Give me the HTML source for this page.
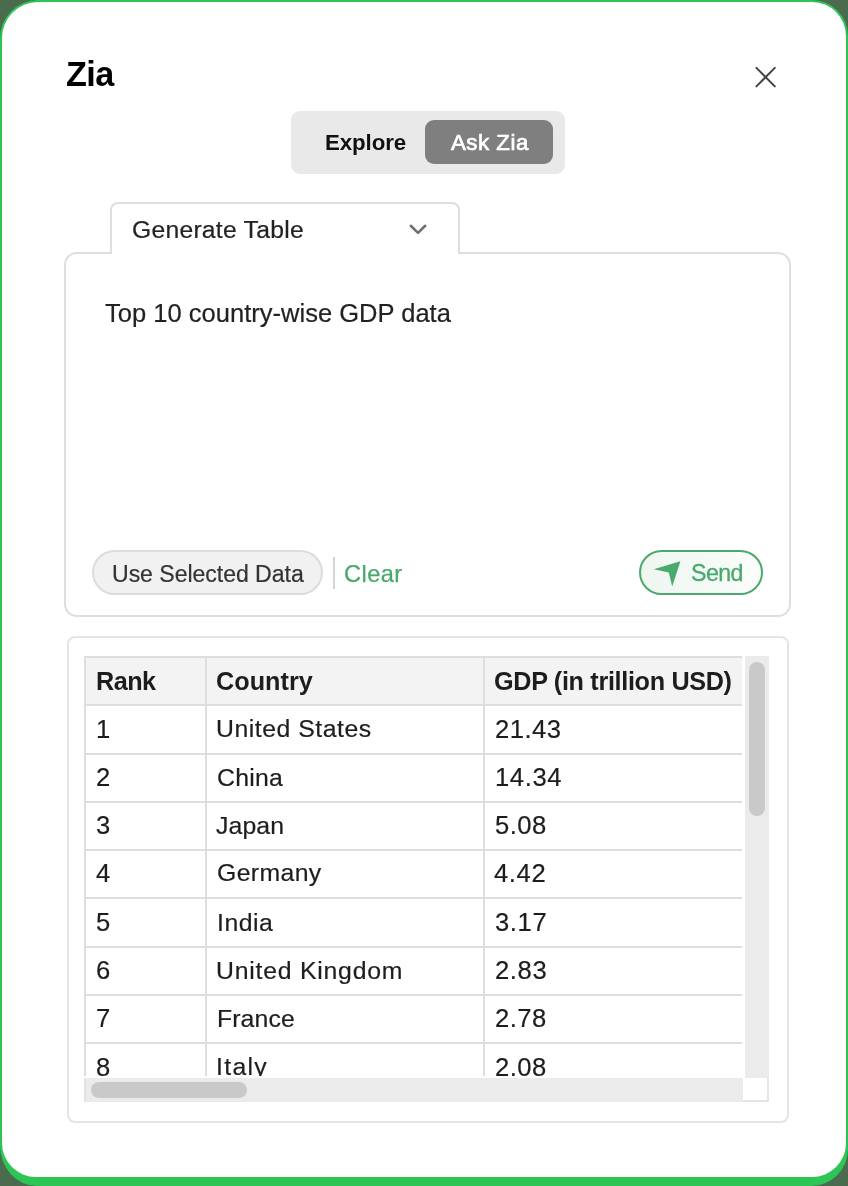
<!DOCTYPE html>
<html>
<head>
<meta charset="utf-8">
<style>
*{box-sizing:border-box;margin:0;padding:0}
html,body{width:848px;height:1186px;overflow:hidden;background:#4b6b4f;font-family:"Liberation Sans",sans-serif;color:#1c1c1c}
.abs{position:absolute}
#frame{position:absolute;left:0;top:0;width:848px;height:1186px;background:#2cc556;border-radius:38px 36px 37px 37px / 38px 36px 37px 40px}
#panel{position:absolute;left:2px;top:1.7px;width:844px;height:1175.8px;background:#fff;border-radius:36px 34px 34px 34px}
.t{position:absolute;white-space:nowrap;line-height:1;will-change:transform}
#title{left:65.9px;top:57.2px;font-size:34.2px;letter-spacing:-0.55px;font-weight:bold;color:#000}
#toggle{left:290.5px;top:110.5px;width:274px;height:63.5px;background:#e9e9e9;border-radius:9px}
#pill{left:424.5px;top:120.3px;width:128px;height:43.7px;background:#7f7f7f;border-radius:9px}
#explore{left:325px;top:131.5px;font-size:22.3px;letter-spacing:-0.1px;font-weight:bold;color:#111}
#askzia{left:451px;top:131.5px;font-size:22.3px;color:#fff;-webkit-text-stroke:0.7px #fff;letter-spacing:0.5px}
#card1{left:64px;top:252px;width:727px;height:365px;border:2px solid #dedede;border-radius:13px;background:#fff}
#tab{left:110px;top:202px;width:350px;height:52px;border:2px solid #dedede;border-bottom:none;border-radius:8px 8px 0 0;background:#fff}
#tabcover{left:112px;top:250px;width:346px;height:4px;background:#fff}
#gentable{-webkit-text-stroke:0.2px #222;left:131.5px;top:218px;font-size:24.7px;letter-spacing:0.25px;color:#222}
#prompt{-webkit-text-stroke:0.2px #222;left:105px;top:301px;font-size:25.5px;letter-spacing:0.02px;color:#222}
#usebtn{left:92px;top:550px;width:231px;height:45px;border:2px solid #dcdcdc;border-radius:23px;background:#f1f1f1}
#usetxt{-webkit-text-stroke:0.2px #333;left:112px;top:562.5px;font-size:23.1px;letter-spacing:-0.05px;color:#333}
#divider{left:333px;top:557px;width:2px;height:32px;background:#d4d4d4}
#clear{-webkit-text-stroke:0.25px #4aa86b;left:344px;top:562.5px;font-size:23.6px;letter-spacing:0.45px;color:#4aa86b}
#sendbtn{left:639px;top:550px;width:124px;height:45px;border:2px solid #4aa96c;border-radius:23px;background:linear-gradient(90deg,#eff6f0 0%,#f4f9f5 50%,#fbfdfb 100%)}
#sendtxt{left:690.6px;top:562.2px;font-size:23.2px;letter-spacing:-0.55px;color:#4aa96c;-webkit-text-stroke:0.35px #4aa96c}
#card2{left:67px;top:636px;width:722px;height:487px;border:2px solid #e5e5e5;border-radius:8px;background:#fff}
#view{left:84px;top:656px;width:658px;height:420px;overflow:hidden}

#tbl{position:absolute;left:0;top:0;width:760px}
.row{position:absolute;left:0;width:760px;height:50px;border-top:2px solid #dedede}
.row.h{background:#f3f3f3}
.c{position:absolute;top:0;height:50px;border-left:2px solid #dedede}
.c1{left:0;width:121px}.c2{left:120.5px;width:280px}.c3{left:399px;width:362px}
.c span{position:absolute;left:10.5px;top:11.2px;font-size:24.8px;line-height:1;white-space:nowrap;color:#1d1d1d;will-change:transform;-webkit-text-stroke:0.2px #1d1d1d}
.c1 span,.c3 span{font-size:25.6px;top:10.5px}
.row.h .c span{font-weight:bold;font-size:25.2px;top:10.7px;-webkit-text-stroke:0}
#vtrack{left:744.5px;top:655.7px;width:24.5px;height:422px;background:#ebebeb}
#vthumb{left:749px;top:662px;width:16px;height:154px;background:#c9c9c9;border-radius:8px}
#htrack{left:84px;top:1078px;width:659px;height:24px;background:#ebebeb;border-left:2px solid #e2e2e2}
#hthumb{left:91px;top:1082px;width:156px;height:16px;background:#c9c9c9;border-radius:8px}
#corner{left:743px;top:1078px;width:26px;height:24px;background:#fff;border-right:2px solid #e4e4e4;border-bottom:2px solid #e4e4e4}
</style>
</head>
<body>
<div id="frame"><div id="panel"></div></div>

<div id="title" class="t">Zia</div>
<svg class="abs" style="left:750px;top:62px" width="32" height="32" viewBox="0 0 32 32"><path d="M6.4 5.9 L24.8 24.4 M24.8 5.9 L6.4 24.4" stroke="#444" stroke-width="2" stroke-linecap="round" fill="none"/></svg>

<div id="toggle" class="abs"></div>
<div id="pill" class="abs"></div>
<div id="explore" class="t">Explore</div>
<div id="askzia" class="t">Ask Zia</div>

<div id="card1" class="abs"></div>
<div id="tab" class="abs"></div>
<div id="tabcover" class="abs"></div>
<div id="gentable" class="t">Generate Table</div>
<svg class="abs" style="left:405px;top:220px" width="26" height="20" viewBox="0 0 26 20"><path d="M5.8 5.8 L13 12.9 L20.2 5.8" stroke="#707070" stroke-width="2.6" stroke-linecap="round" stroke-linejoin="round" fill="none"/></svg>
<div id="prompt" class="t">Top 10 country-wise GDP data</div>

<div id="usebtn" class="abs"></div>
<div id="usetxt" class="t">Use Selected Data</div>
<div id="divider" class="abs"></div>
<div id="clear" class="t">Clear</div>
<div id="sendbtn" class="abs"></div>
<svg class="abs" style="left:650px;top:556px" width="36" height="36" viewBox="0 0 36 36"><path d="M30.4 5.2 L3.7 13.2 L18.8 16.5 L22.2 30.6 Z" fill="#4aa96c"/></svg>
<div id="sendtxt" class="t">Send</div>

<div id="card2" class="abs"></div>
<div id="view" class="abs"><div id="tbl">
<div class="row h" style="top:0.0px"><div class="c c1"><span style="letter-spacing:-0.5px;margin-left:-1.0px">Rank</span></div><div class="c c2"><span style="letter-spacing:0.05px;margin-left:-1.5px">Country</span></div><div class="c c3"><span style="letter-spacing:-0.32px;margin-left:-1.2px">GDP (in trillion USD)</span></div></div>
<div class="row" style="top:48.28px"><div class="c c1"><span style="margin-left:-0.3px">1</span></div><div class="c c2"><span style="letter-spacing:0.52px;margin-left:-1.4px">United States</span></div><div class="c c3"><span style="letter-spacing:0.5px;margin-left:-1px">21.43</span></div></div>
<div class="row" style="top:96.56px"><div class="c c1"><span style="margin-left:-0.7px">2</span></div><div class="c c2"><span style="letter-spacing:0.25px;margin-left:-0.5px">China</span></div><div class="c c3"><span style="letter-spacing:0.6px;margin-left:-1px">14.34</span></div></div>
<div class="row" style="top:144.84px"><div class="c c1"><span style="margin-left:-0.7px">3</span></div><div class="c c2"><span style="letter-spacing:0.1px;margin-left:-1.0px">Japan</span></div><div class="c c3"><span style="letter-spacing:0.5px;margin-left:-1px">5.08</span></div></div>
<div class="row" style="top:193.12px"><div class="c c1"><span style="margin-left:-0.7px;margin-top:-1px">4</span></div><div class="c c2"><span style="letter-spacing:0.38px;margin-left:-0.5px;margin-top:-1px">Germany</span></div><div class="c c3"><span style="letter-spacing:0.6px;margin-left:-1.5px;margin-top:-1px">4.42</span></div></div>
<div class="row" style="top:241.4px"><div class="c c1"><span style="margin-left:-0.7px">5</span></div><div class="c c2"><span style="letter-spacing:0.5px;margin-left:-0.5px">India</span></div><div class="c c3"><span style="letter-spacing:0.6px;margin-left:-1px">3.17</span></div></div>
<div class="row" style="top:289.68px"><div class="c c1"><span style="margin-left:-0.7px">6</span></div><div class="c c2"><span style="letter-spacing:0.77px;margin-left:-1.0px">United Kingdom</span></div><div class="c c3"><span style="letter-spacing:0.6px;margin-left:-1px">2.83</span></div></div>
<div class="row" style="top:337.96px"><div class="c c1"><span style="margin-left:-0.7px">7</span></div><div class="c c2"><span style="letter-spacing:0.1px;margin-left:-0.5px">France</span></div><div class="c c3"><span style="letter-spacing:0.5px;margin-left:-1px">2.78</span></div></div>
<div class="row" style="top:386.24px"><div class="c c1"><span style="margin-left:-0.7px">8</span></div><div class="c c2"><span style="letter-spacing:1.3px;margin-left:-0.75px">Italy</span></div><div class="c c3"><span style="letter-spacing:0.5px;margin-left:-1px">2.08</span></div></div>
</div></div>
<div id="vtrack" class="abs"></div><div id="vthumb" class="abs"></div>
<div id="htrack" class="abs"></div><div id="hthumb" class="abs"></div><div id="corner" class="abs"></div>
</body>
</html>
